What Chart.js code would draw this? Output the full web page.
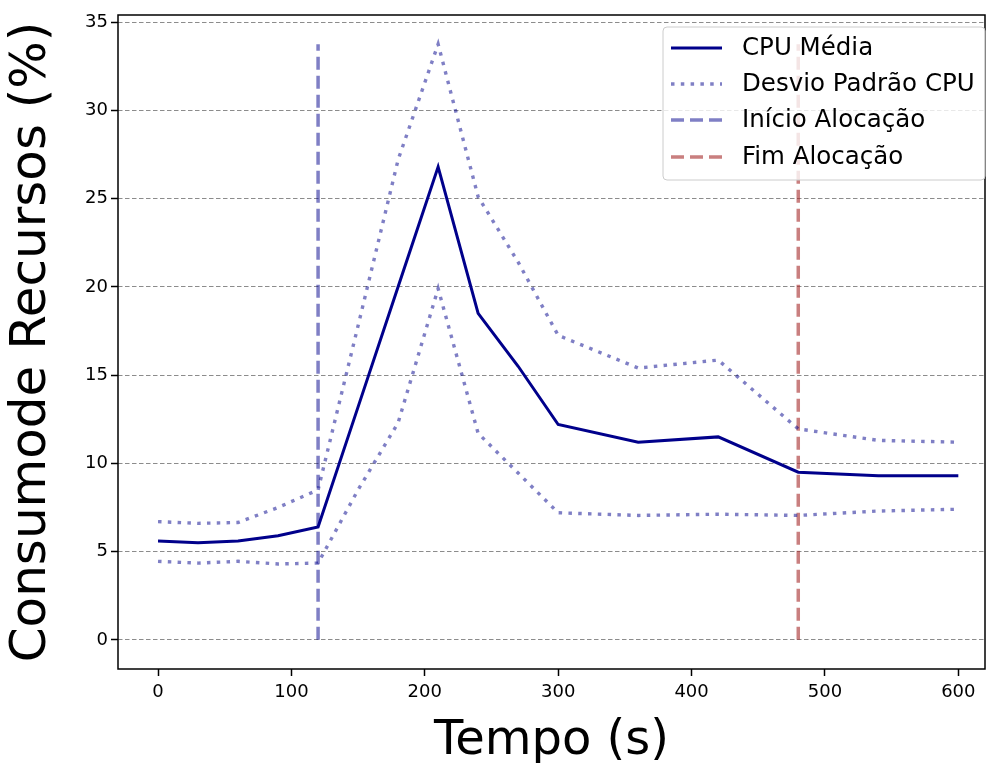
<!DOCTYPE html>
<html>
<head>
<meta charset="utf-8">
<script src="https://cdn.jsdelivr.net/npm/chart.js@4"></script>
<style>
  html, body { margin:0; padding:0; background:#fff; }
  canvas { display:block; }
</style>
</head>
<body>
<canvas id="cpuChart" width="987" height="763"></canvas>
<script>
// ── data ──
const tempos    = [0, 30, 60, 90, 120, 150, 180, 210, 240, 270, 300, 360, 420, 480, 540, 600];
const cpuMedia  = [5.6, 5.5, 5.6, 5.9, 6.4, 13.2, 20.0, 26.8, 18.5, 15.5, 12.2, 11.2, 11.5, 9.5, 9.3, 9.3];
const cpuSup    = [6.7, 6.6, 6.65, 7.5, 8.5, 17.8, 27.2, 33.75, 25.1, 21.4, 17.25, 15.4, 15.85, 11.95, 11.3, 11.2];
const cpuInf    = [4.45, 4.35, 4.45, 4.3, 4.35, 8.5, 12.3, 19.9, 11.7, 9.45, 7.2, 7.05, 7.12, 7.05, 7.3, 7.4];
const alocacao  = [120, 480];          // início, fim
const alocTopo  = 33.75;
const yTicks    = [0, 5, 10, 15, 20, 25, 30, 35];
const xTicks    = [0, 100, 200, 300, 400, 500, 600];
const labels    = ['CPU Média', 'Desvio Padrão CPU', 'Início Alocação', 'Fim Alocação'];

const FONT = "'DejaVu Sans', sans-serif";
Chart.defaults.font.family = FONT;
Chart.defaults.color = '#000';

const pts = ys => tempos.map((t, i) => ({x: t, y: ys[i]}));
const vline = x => [{x, y: 0}, {x, y: alocTopo}];

const NAVY = '#00008b';
const NAVY_A = 'rgba(0,0,139,0.5)';
const BROWN_A = 'rgba(165,42,42,0.6)';
const DOT = [3.5, 6.3];
const DASH = [13, 6];

// frame + legend drawn on top, matplotlib style
const frameLegend = {
  id: 'frameLegend',
  afterDraw(chart) {
    const {ctx, chartArea: a} = chart;
    ctx.save();
    ctx.strokeStyle = '#000';
    ctx.lineWidth = 1.5;
    ctx.setLineDash([]);
    ctx.strokeRect(a.left, a.top, a.right - a.left, a.bottom - a.top);

    // legend box
    const bx = 663, by = 27, bw = 322, bh = 153, r = 4;
    ctx.beginPath();
    ctx.roundRect(bx, by, bw, bh, r);
    ctx.fillStyle = 'rgba(255,255,255,0.8)';
    ctx.fill();
    ctx.strokeStyle = '#cccccc';
    ctx.lineWidth = 1;
    ctx.stroke();

    const ds = chart.data.datasets;
    const entries = [ds[0], ds[1], ds[3], ds[4]];
    const rows = [48, 84, 120, 157];
    ctx.font = '24.5px ' + FONT;
    ctx.textBaseline = 'middle';
    entries.forEach((d, i) => {
      const y = rows[i];
      ctx.beginPath();
      ctx.strokeStyle = d.borderColor;
      ctx.lineWidth = d.borderWidth;
      ctx.setLineDash(d.borderDash || []);
      ctx.moveTo(671, y);
      ctx.lineTo(722, y);
      ctx.stroke();
      ctx.setLineDash([]);
      ctx.fillStyle = '#000';
      ctx.fillText(d.label, 742, y + 1);
    });
    ctx.restore();
  }
};

new Chart(document.getElementById('cpuChart').getContext('2d'), {
  type: 'line',
  data: {
    datasets: [
      { label: labels[0], data: pts(cpuMedia), borderColor: NAVY, borderWidth: 3 },
      { label: labels[1], data: pts(cpuSup), borderColor: NAVY_A, borderWidth: 3.4, borderDash: DOT },
      { label: labels[1], data: pts(cpuInf), borderColor: NAVY_A, borderWidth: 3.4, borderDash: DOT },
      { label: labels[2], data: vline(alocacao[0]), borderColor: NAVY_A, borderWidth: 3.5, borderDash: DASH },
      { label: labels[3], data: vline(alocacao[1]), borderColor: BROWN_A, borderWidth: 3.5, borderDash: DASH }
    ]
  },
  options: {
    responsive: false, animation: false,
    layout: { padding: { top: 15, right: 2, left: 0, bottom: 0 } },
    elements: { point: { radius: 0 }, line: { tension: 0, borderCapStyle: 'butt' } },
    plugins: { legend: { display: false }, tooltip: { enabled: false } },
    scales: {
      x: {
        type: 'linear', min: -30, max: 620,
        afterBuildTicks: s => { s.ticks = xTicks.map(v => ({value: v})); },
        afterFit: s => { s.height = 94; },
        ticks: { font: { size: 18 }, color: '#000', padding: 6, maxRotation: 0 },
        grid: { drawOnChartArea: false, tickLength: 7, tickColor: '#000', tickWidth: 1.5 },
        border: { display: false },
        title: { display: true, text: 'Tempo (s)', color: '#000', font: { size: 48, lineHeight: 0.9 }, padding: 0 }
      },
      y: {
        type: 'linear', min: -1.65, max: 35.4,
        afterBuildTicks: s => { s.ticks = yTicks.map(v => ({value: v})); },
        afterFit: s => { s.width = 118; },
        ticks: { font: { size: 18 }, color: '#000', padding: 3 },
        grid: { color: '#8c8c8c', lineWidth: 1, tickLength: 7, tickColor: '#000', tickWidth: 1.5, tickBorderDash: [] },
        border: { display: false, dash: [4.5, 2.5] },
        title: { display: true, text: 'Consumode Recursos (%)', color: '#000', font: { size: 50, lineHeight: 1.3 }, padding: 0 }
      }
    }
  },
  plugins: [frameLegend]
});
</script>
</body>
</html>
